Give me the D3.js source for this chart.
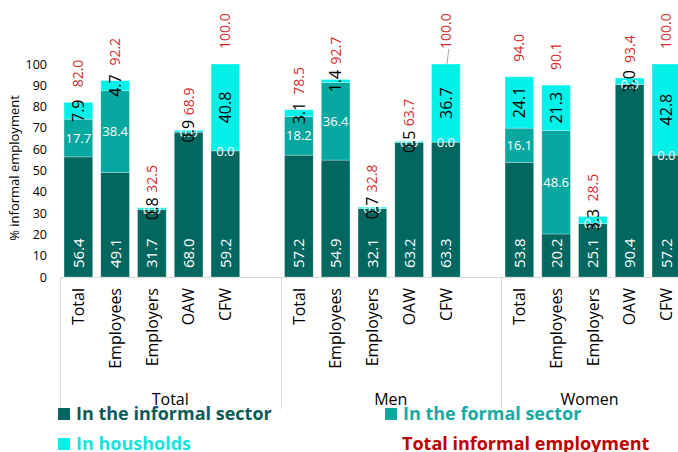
<!DOCTYPE html>
<html>
<head>
<meta charset="utf-8">
<script src="https://cdnjs.cloudflare.com/ajax/libs/d3/7.8.5/d3.min.js"></script>
<style>
  body { margin: 0; background: #fff; }
  svg { display: block; font-family: "Open Sans", sans-serif; }
</style>
</head>
<body>
<div id="chart"></div>
<script>
// Data (group-major order: Total, Men, Women)
var groups = ["Total", "Men", "Women"];
var categories = ["Total", "Employees", "Employers", "OAW", "CFW"];
var informalSector = [56.4, 49.1, 31.7, 68.0, 59.2, 57.2, 54.9, 32.1, 63.2, 63.3, 53.8, 20.2, 25.1, 90.4, 57.2];
var formalSector   = [17.7, 38.4, 0.0, 0.0, 0.0, 18.2, 36.4, 0.0, 0.0, 0.0, 16.1, 48.6, 0.0, 0.0, 0.0];
var households     = [7.9, 4.7, 0.8, 0.9, 40.8, 3.1, 1.4, 0.7, 0.5, 36.7, 24.1, 21.3, 3.3, 3.0, 42.8];
var totalInformal  = [82.0, 92.2, 32.5, 68.9, 100.0, 78.5, 92.7, 32.8, 63.7, 100.0, 94.0, 90.1, 28.5, 93.4, 100.0];
var yTicks = [0, 10, 20, 30, 40, 50, 60, 70, 80, 90, 100];
var seriesNames = ["In the informal sector", "In the formal sector", "In housholds"];
var leaderLabels = ["Men|CFW"];

var width = 678,
    height = 452;

var colors = ["#02675f", "#07a8a0", "#04f1e9"];
var legendText = ["#0c5a55", "#17aaa2", "#14e4dd"];

// Build rows for the stack
var rows = [];
groups.forEach(function(g, gi) {
    categories.forEach(function(c, ci) {
        var i = gi * categories.length + ci;
        rows.push({
            group: g, cat: c,
            informal: informalSector[i],
            formal: formalSector[i],
            house: households[i],
            total: totalInformal[i]
        });
    });
});

var keys = ["informal", "formal", "house"];
var stacked = d3.stack().keys(keys)(rows);

var svg = d3.select("#chart")
            .append("svg")
            .attr("width", width)
            .attr("height", height);

// Scales: each group gets 6 slots, 5 bars and an empty one
var groupScale = d3.scaleBand()
                   .domain(groups)
                   .range([60, 721.5]);

var catScale = d3.scaleBand()
                 .domain(categories)
                 .range([0, groupScale.bandwidth() * 5 / 6])
                 .paddingInner(0.22)
                 .paddingOuter(0.11);

var y = d3.scaleLinear()
          .domain([0, 100])
          .range([277, 64]);

function barX(d) { return groupScale(d.group) + catScale(d.cat); }
function barCx(d) { return barX(d) + catScale.bandwidth() / 2; }

// Y axis (labels only)
var yAxis = svg.append("g")
               .attr("transform", "translate(47,0)")
               .call(d3.axisLeft(y).tickValues(yTicks).tickSize(0).tickPadding(0));
yAxis.select(".domain").remove();
yAxis.selectAll("text")
     .attr("font-size", 12.5)
     .attr("font-family", "Open Sans")
     .attr("fill", "#000");

svg.append("text")
   .attr("transform", "translate(19," + 168 + ") rotate(-90)")
   .attr("text-anchor", "middle")
   .attr("font-size", 13)
   .attr("fill", "#000")
   .text("% informal employment");

// X axis line and group separators
svg.append("line")
   .attr("x1", 60).attr("x2", width)
   .attr("y1", y(0) + 0.5).attr("y2", y(0) + 0.5)
   .attr("stroke", "#d9d9d9");

svg.selectAll(".sep")
   .data(groups)
   .enter().append("line")
   .attr("class", "sep")
   .attr("x1", d => Math.round(groupScale(d)) + 0.5)
   .attr("x2", d => Math.round(groupScale(d)) + 0.5)
   .attr("y1", y(0))
   .attr("y2", 409)
   .attr("stroke", "#d9d9d9");

// Stacked bars
var layer = svg.append("g")
               .selectAll("g")
               .data(stacked)
               .enter().append("g")
               .attr("fill", (d, i) => colors[i]);

layer.selectAll("rect")
     .data(d => d)
     .enter().append("rect")
     .attr("x", d => barX(d.data))
     .attr("width", catScale.bandwidth())
     .attr("y", d => y(d[1]))
     .attr("height", d => y(d[0]) - y(d[1]))
     .attr("stroke", "#ffffff")
     .attr("stroke-opacity", 0.35)
     .attr("stroke-width", 0.8);

// Labels: informal sector (white, vertical, at the bottom)
svg.append("g").selectAll("text")
   .data(stacked[0])
   .enter().append("text")
   .attr("transform", d => "translate(" + barCx(d.data) + "," + (y(0) - 9) + ") rotate(-90)")
   .attr("dy", "0.36em")
   .attr("font-size", 15)
   .attr("fill", "#fff")
   .text(d => d.data.informal.toFixed(1));

// Labels: formal sector (white, horizontal, centred)
svg.append("g").selectAll("text")
   .data(stacked[1])
   .enter().append("text")
   .attr("x", d => barCx(d.data))
   .attr("y", d => y((d[0] + d[1]) / 2))
   .attr("dy", "0.36em")
   .attr("text-anchor", "middle")
   .attr("font-size", 13)
   .attr("fill", "#fff")
   .text(d => d.data.formal.toFixed(1));

// Labels: households (black, vertical, centred)
svg.append("g").selectAll("text")
   .data(stacked[2])
   .enter().append("text")
   .attr("transform", d => "translate(" + barCx(d.data) + "," + y((d[0] + d[1]) / 2) + ") rotate(-90)")
   .attr("dy", "0.36em")
   .attr("text-anchor", "middle")
   .attr("font-size", 16)
   .attr("fill", "#000")
   .text(d => d.data.house.toFixed(1));

// Labels: total informal employment (red, above the bar)
svg.append("g").selectAll("text")
   .data(rows)
   .enter().append("text")
   .attr("transform", d => "translate(" + barCx(d) + "," + (y(d.informal + d.formal + d.house) - 15) + ") rotate(-90)")
   .attr("dy", "0.36em")
   .attr("font-size", 14)
   .attr("fill", "#d42a2a")
   .text(d => d.total.toFixed(1));

// Leader line where Excel moved a label
svg.append("g").selectAll("line")
   .data(rows.filter(d => leaderLabels.indexOf(d.group + "|" + d.cat) >= 0))
   .enter().append("line")
   .attr("x1", d => barCx(d) + 1)
   .attr("y1", d => y(d.informal + d.formal + d.house))
   .attr("x2", d => barCx(d) + 3)
   .attr("y2", d => y(d.informal + d.formal + d.house) - 15)
   .attr("stroke", "#a6a6a6");

// Category tick labels
svg.append("g").selectAll("text")
   .data(rows)
   .enter().append("text")
   .attr("transform", d => "translate(" + barCx(d) + ",288) rotate(-90)")
   .attr("dy", "0.36em")
   .attr("text-anchor", "end")
   .attr("font-size", 16)
   .attr("fill", "#000")
   .text(d => d.cat);

// Group labels, centred on the visible part of each group
svg.append("g").selectAll("text")
   .data(groups)
   .enter().append("text")
   .attr("x", d => (groupScale(d) + Math.min(groupScale(d) + groupScale.bandwidth(), width)) / 2)
   .attr("y", 405)
   .attr("text-anchor", "middle")
   .attr("font-size", 16)
   .attr("fill", "#000")
   .text(d => d);

// Legend
var legendPos = [[58, 408], [385, 408], [58, 438]];
var legend = svg.append("g");
seriesNames.forEach(function(name, i) {
    legend.append("rect")
          .attr("x", legendPos[i][0])
          .attr("y", legendPos[i][1])
          .attr("width", 12)
          .attr("height", 12)
          .attr("fill", colors[i]);
    legend.append("text")
          .attr("x", legendPos[i][0] + 18)
          .attr("y", legendPos[i][1] + 12)
          .attr("font-size", 18)
          .attr("font-weight", "bold")
          .attr("fill", legendText[i])
          .text(name);
});
legend.append("text")
      .attr("x", 402)
      .attr("y", 450)
      .attr("font-size", 18)
      .attr("font-weight", "bold")
      .attr("fill", "#c00000")
      .text("Total informal employment");
</script>
</body>
</html>
